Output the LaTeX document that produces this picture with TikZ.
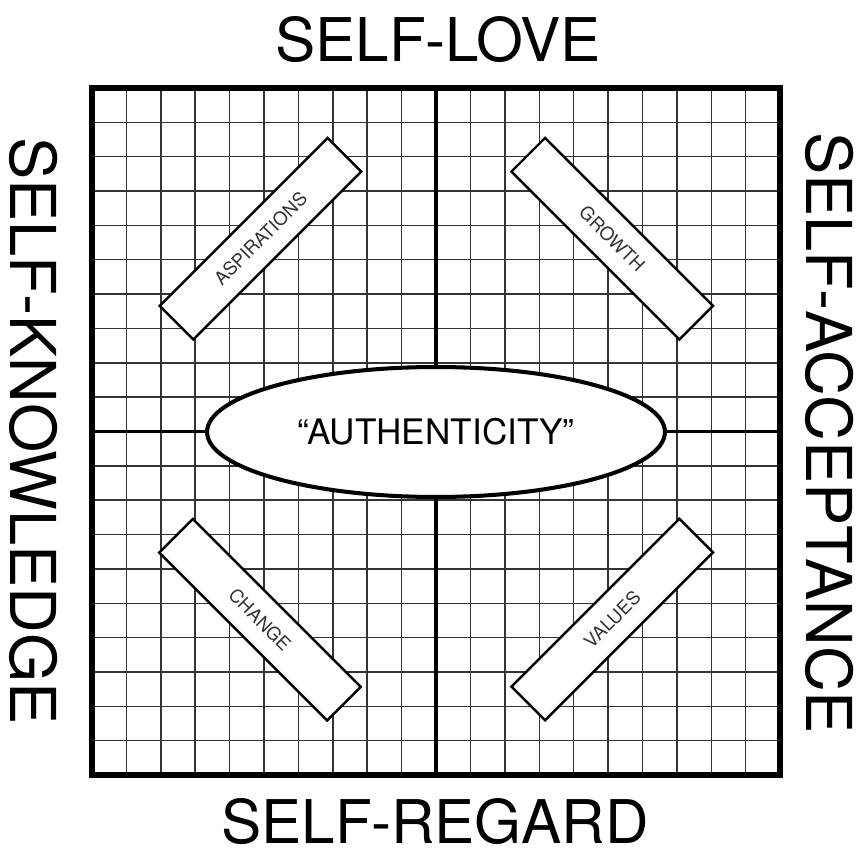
\documentclass[tikz,border=0pt]{standalone}
\usepackage{fontspec}
\setmainfont{TeX Gyre Heros}
\usetikzlibrary{shapes.geometric}

\begin{document}
\begin{tikzpicture}[x=0.02cm, y=-0.02cm,
  side/.style={font=\fontsize{34.3}{34.3}\selectfont, inner sep=0pt},
  flank/.style={font=\fontsize{36}{36}\selectfont, inner sep=0pt, rotate=-90},
  slot/.style={draw, line width=1.4pt, fill=white, minimum width=4.75cm,
               minimum height=0.95cm, inner sep=0pt,
               font=\fontsize{10.5}{10.5}\selectfont, text=black!80},
  core/.style={ellipse, draw, line width=2.3pt, fill=white,
               minimum width=9.16cm, minimum height=2.6cm, inner sep=0pt,
               font=\fontsize{20}{20}\selectfont},
  gridline/.style={line width=0.8pt, black!80},
  axis/.style={line width=2.2pt}
]
  \useasboundingbox (0,0) rectangle (863,858);

  % grid
  \foreach \gx in {126.4,160.8,195.2,229.6,264,298.4,332.8,367.2,401.6,
                   470.4,504.8,539.2,573.6,608,642.4,676.8,711.2,745.6}
    \draw[gridline] (\gx,88) -- (\gx,775);
  \foreach \gy in {122.35,156.7,191.05,225.4,259.75,294.1,328.45,362.8,397.15,
                   465.85,500.2,534.55,568.9,603.25,637.6,671.95,706.3,740.65}
    \draw[gridline] (92,\gy) -- (780,\gy);
  \coordinate (n) at (436,88);
  \coordinate (s) at (436,775);
  \coordinate (w) at (92,431.5);
  \coordinate (e) at (780,431.5);
  \draw[axis] (n) -- (s);
  \draw[axis] (w) -- (e);
  \draw[line width=3.4pt] (92,88) rectangle (780,775);

  % centre and quadrants
  \node[core] (auth) at (436,432) {``AUTHENTICITY''};
  \node[slot, rotate=45]  (asp) at (260.5,238.7) {ASPIRATIONS};
  \node[slot, rotate=-45] (gro) at (612.2,238.7) {GROWTH};
  \node[slot, rotate=-45] (cha) at (260,619.7) {CHANGE};
  \node[slot, rotate=45]  (val) at (612.2,619.5) {VALUES};

  % sides
  \node[side] (love) at (438,40) {SELF-LOVE};
  \node[side] (regard) at (435,822) {SELF-REGARD};
  \node[flank] (know) at (34,431) {SELF-KNOWLEDGE};
  \node[flank] (accept) at (830,433) {SELF-ACCEPTANCE};
\end{tikzpicture}
\end{document}
